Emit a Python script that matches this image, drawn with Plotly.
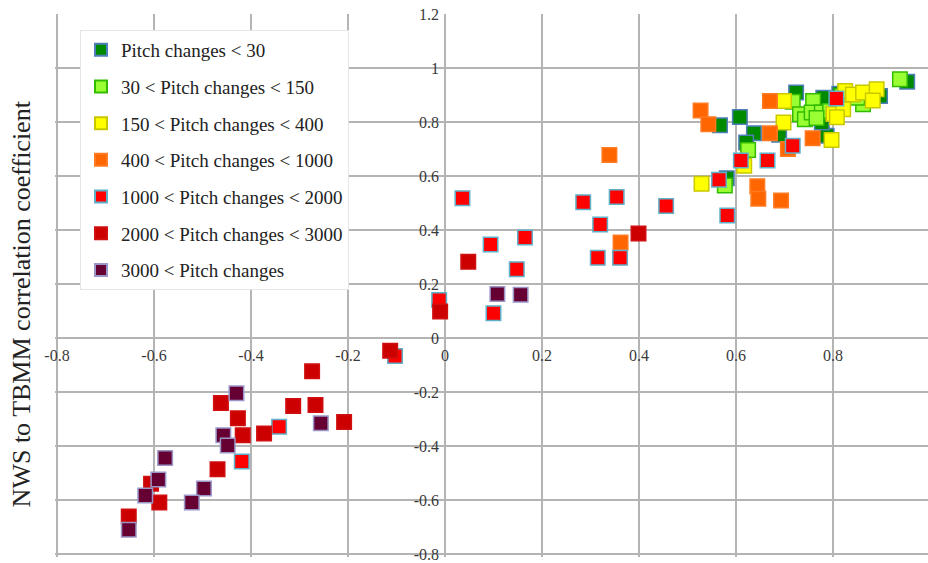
import plotly.graph_objects as go

# ---- data (x, y) per pitch-change class ----
g1_x = [0.567, 0.608, 0.637, 0.621, 0.689, 0.787, 0.724, 0.780, 0.777, 0.897, 0.953, 0.581, 0.813]
g1_y = [0.788, 0.819, 0.758, 0.724, 0.753, 0.749, 0.909, 0.890, 0.798, 0.896, 0.949, 0.592, 0.905]

g2_x = [0.625, 0.577, 0.717, 0.732, 0.742, 0.759, 0.756, 0.777, 0.794, 0.818, 0.862, 0.938, 0.766, 0.850]
g2_y = [0.696, 0.565, 0.875, 0.829, 0.810, 0.878, 0.835, 0.835, 0.841, 0.896, 0.866, 0.958, 0.815, 0.890]

g3_x = [0.529, 0.617, 0.698, 0.699, 0.797, 0.801, 0.821, 0.825, 0.841, 0.862, 0.890, 0.882, 0.808]
g3_y = [0.571, 0.638, 0.798, 0.878, 0.733, 0.830, 0.847, 0.915, 0.902, 0.909, 0.921, 0.880, 0.818]

g4_x = [0.339, 0.362, 0.527, 0.543, 0.644, 0.646, 0.693, 0.670, 0.670, 0.707, 0.758]
g4_y = [0.678, 0.354, 0.843, 0.792, 0.562, 0.516, 0.509, 0.758, 0.878, 0.700, 0.740]

g5_x = [0.036, 0.094, 0.165, 0.148, 0.100, -0.012, -0.103, 0.285, 0.354, 0.456, 0.320,
        0.315, 0.361, 0.565, 0.582, 0.610, 0.665, 0.717, 0.807, -0.342, -0.419]
g5_y = [0.518, 0.346, 0.372, 0.255, 0.092, 0.141, -0.067, 0.503, 0.522, 0.489, 0.420,
        0.297, 0.297, 0.586, 0.454, 0.657, 0.657, 0.712, 0.887, -0.329, -0.457]

g6_x = [0.048, -0.010, -0.113, 0.399, -0.274, -0.462, -0.313, -0.267, -0.427, -0.208,
        -0.373, -0.417, -0.469, -0.606, -0.589, -0.652]
g6_y = [0.282, 0.098, -0.047, 0.387, -0.123, -0.241, -0.252, -0.248, -0.297, -0.311,
        -0.354, -0.360, -0.486, -0.540, -0.609, -0.661]

g7_x = [0.108, 0.156, -0.430, -0.256, -0.457, -0.448, -0.577, -0.591, -0.497, -0.618, -0.522, -0.652]
g7_y = [0.163, 0.160, -0.205, -0.316, -0.360, -0.398, -0.444, -0.524, -0.557, -0.583, -0.609, -0.710]

names = ["Pitch changes < 30", "30 < Pitch changes < 150", "150 < Pitch changes < 400",
         "400 < Pitch changes < 1000", "1000 < Pitch changes < 2000",
         "2000 < Pitch changes < 3000", "3000 < Pitch changes"]
fills = ["#008a00", "#99ff33", "#ffff00", "#ff6600", "#ff0000", "#cc0000", "#660033"]
edges = ["#4f7fb8", "#33bb00", "#c8c800", "#ff7a20", "#5fb0c8", "#d01010", "#9a96c8"]

xs = [g1_x, g2_x, g3_x, g4_x, g5_x, g6_x, g7_x]
ys = [g1_y, g2_y, g3_y, g4_y, g5_y, g6_y, g7_y]

x_ticks = [-0.8, -0.6, -0.4, -0.2, 0, 0.2, 0.4, 0.6, 0.8, 1]
x_labels = ["-0.8", "-0.6", "-0.4", "-0.2", "0", "0.2", "0.4", "0.6", "0.8", "1"]
y_ticks = [-0.8, -0.6, -0.4, -0.2, 0, 0.2, 0.4, 0.6, 0.8, 1, 1.2]
y_labels = ["-0.8", "-0.6", "-0.4", "-0.2", "0", "0.2", "0.4", "0.6", "0.8", "1", "1.2"]

fig = go.Figure()
for i in range(7):
    fig.add_trace(go.Scatter(
        x=xs[i], y=ys[i], mode="markers", name=names[i], legendgroup=f"g{i}",
        marker=dict(symbol="square", size=14.5, color=fills[i],
                    line=dict(color=edges[i], width=1.5)),
    ))

grid = "#b4b4b4"
xr = [-0.8041, 0.9959]
yr = [-0.811, 1.2]
fig.update_layout(
    width=928, height=563,
    margin=dict(l=55, r=0, t=14, b=3),
    paper_bgcolor="white", plot_bgcolor="white",
    font=dict(family="Liberation Serif", color="#404040"),
    showlegend=True,
    legend=dict(x=(80 - 55) / 873, y=(560 - 30) / 546, xanchor="left", yanchor="top",
                bgcolor="white", bordercolor="#e6e6e6", borderwidth=1,
                font=dict(family="Liberation Serif", size=19, color="#222222"),
                tracegroupgap=9, itemsizing="constant", entrywidth=250),
    xaxis=dict(range=xr, tickvals=x_ticks, ticktext=x_labels, showgrid=True,
               gridcolor=grid, gridwidth=2, zeroline=True, zerolinecolor=grid,
               zerolinewidth=2, showline=False, anchor="free",
               position=(0 - yr[0]) / (yr[1] - yr[0]), ticklabeloverflow="allow",
               tickfont=dict(size=16, color="#3a3a3a"), ticks="", ticklabelstandoff=6),
    yaxis=dict(range=yr, tickvals=y_ticks, ticktext=y_labels, showgrid=True,
               gridcolor=grid, gridwidth=2, zeroline=True, zerolinecolor=grid,
               zerolinewidth=2, showline=False, anchor="free",
               position=(0 - xr[0]) / (xr[1] - xr[0]), ticklabeloverflow="allow",
               tickfont=dict(size=16, color="#3a3a3a"), ticks="", ticklabelstandoff=6),
    annotations=[dict(text="NWS to TBMM correlation coefficient", xref="paper", yref="paper",
                      x=(21 - 55) / 873, y=(560 - 306) / 546, xanchor="center", yanchor="middle",
                      textangle=-90, showarrow=False,
                      font=dict(family="Liberation Serif", size=26, color="#222222"))],
)

fig.write_html("out.html")
